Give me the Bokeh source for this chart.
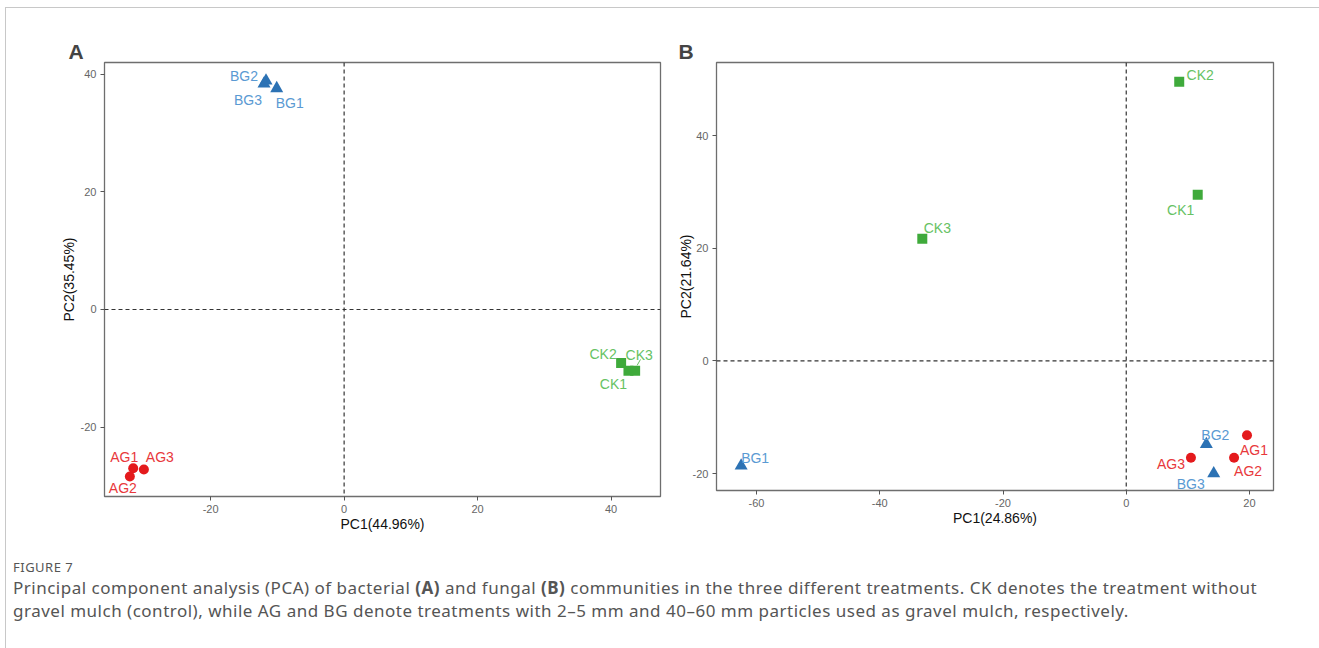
from bokeh.plotting import figure
from bokeh.models import ColumnDataSource, Span, FixedTicker, Range1d, Div
from bokeh.layouts import row, column
from bokeh.embed import file_html
from bokeh.resources import INLINE
from bokeh.core.properties import value

# ---------------- data ----------------
samples = ["AG1", "AG2", "AG3", "BG1", "BG2", "BG3", "CK1", "CK2", "CK3"]
groups = ["AG", "AG", "AG", "BG", "BG", "BG", "CK", "CK", "CK"]

# Panel A: bacterial communities
pc1_A = [-31.6, -32.1, -30.0, -10.1, -11.7, -12.0, 42.6, 41.5, 43.6]
pc2_A = [-27.0, -28.4, -27.2, 37.6, 38.9, 38.4, -10.4, -9.1, -10.4]
xlab_A = "PC1(44.96%)"
ylab_A = "PC2(35.45%)"

# Panel B: fungal communities
pc1_B = [19.6, 17.5, 10.5, -62.5, 13.0, 14.2, 11.6, 8.6, -33.1]
pc2_B = [-13.2, -17.2, -17.2, -18.6, -14.8, -20.0, 29.5, 49.6, 21.7]
xlab_B = "PC1(24.86%)"
ylab_B = "PC2(21.64%)"

ticks_A_x = [-20, 0, 20, 40]
ticks_A_y = [-20, 0, 20, 40]
ticks_B_x = [-60, -40, -20, 0, 20]
ticks_B_y = [-20, 0, 20, 40]

# ---------------- style ----------------
marker_col = {"AG": "#E41A1C", "BG": "#2C72B4", "CK": "#3FAA3B"}
label_col = {"AG": "#E8383B", "BG": "#5A9AD3", "CK": "#66C263"}
marker_shape = {"AG": "circle", "BG": "triangle", "CK": "square"}
marker_size = {"AG": 10, "BG": 13, "CK": 10}

# label pixel offsets (repel-like placement)
offA_x = [-9, -7, 16, 13, -22, -16, -15, -18, 4]
offA_y = [-11, 11, -12, 15, -5, 16, 13, -9, -16]
offB_x = [7, 14, -20, 14, 9, -23, -17, 21, 15]
offB_y = [15, 13, 6, -8, -9, 10, 15, -7, -11]

FONT = "Liberation Sans"


def make_panel(letter, xs, ys, offx, offy, xr, yr, tx, ty, xlab, ylab,
               w, h, mbl, mbr, mbt, mbb, fw, fh, title_off, ylab_standoff):
    p = figure(width=w, height=h, frame_width=fw, frame_height=fh,
               min_border_left=mbl, min_border_right=mbr,
               min_border_top=mbt, min_border_bottom=mbb,
               x_range=Range1d(*xr), y_range=Range1d(*yr),
               output_backend="svg", toolbar_location=None,
               background_fill_color="white", border_fill_color="white")
    p.title.text = letter
    p.title.text_font = FONT
    p.title.text_font_size = "21px"
    p.title.text_font_style = "bold"
    p.title.align = "left"
    p.title.offset = title_off
    p.title.standoff = 0
    p.xgrid.visible = False
    p.ygrid.visible = False
    p.outline_line_color = "#6E6E6E"
    p.outline_line_width = 1.3
    for ax, ticks, lab in ((p.xaxis[0], tx, xlab), (p.yaxis[0], ty, ylab)):
        ax.ticker = FixedTicker(ticks=ticks)
        ax.major_label_overrides = {t: str(t) for t in ticks}
        ax.axis_line_color = None
        ax.major_tick_line_color = "#555555"
        ax.major_tick_out = 4
        ax.major_tick_in = 0
        ax.minor_tick_line_color = None
        ax.major_label_text_font = FONT
        ax.major_label_text_font_size = "11px"
        ax.major_label_text_color = "#666666"
        ax.major_label_standoff = 4
        ax.axis_label = lab
        ax.axis_label_text_font = FONT
        ax.axis_label_text_font_size = "14px"
        ax.axis_label_text_font_style = "normal"
        ax.axis_label_text_color = "#111111"
    p.xaxis[0].axis_label_standoff = 0
    p.yaxis[0].axis_label_standoff = ylab_standoff
    p.yaxis[0].major_label_orientation = "horizontal"

    p.add_layout(Span(location=0, dimension="height", line_color="#333333",
                      line_dash="4 3", line_width=1.2))
    p.add_layout(Span(location=0, dimension="width", line_color="#333333",
                      line_dash="4 3", line_width=1.2))

    src = ColumnDataSource(dict(
        x=xs, y=ys, name=samples,
        mcol=[marker_col[g] for g in groups],
        lcol=[label_col[g] for g in groups],
        mk=[marker_shape[g] for g in groups],
        sz=[marker_size[g] for g in groups],
        ox=offx, oy=offy))
    p.scatter("x", "y", source=src, marker="mk", size="sz",
              fill_color="mcol", line_color="mcol", line_width=0)
    p.text("x", "y", text="name", source=src, x_offset="ox", y_offset="oy",
           text_color="lcol", text_font=value(FONT), text_font_size="14px",
           text_align="center", text_baseline="middle")
    return p


pA = make_panel("A", pc1_A, pc2_A, offA_x, offA_y,
                (-35.9, 47.4), (-31.8, 42.0), ticks_A_x, ticks_A_y,
                xlab_A, ylab_A,
                w=659, h=532, mbl=98, mbr=5, mbt=53, mbb=45, fw=556, fh=434,
                title_off=-36, ylab_standoff=1)
# connector from CK3 point to its label (panel A)
ck3 = samples.index("CK3")
pA.segment(x0=[pc1_A[ck3] + 0.3], y0=[pc2_A[ck3] + 0.9],
           x1=[pc1_A[ck3] + 0.8], y1=[pc2_A[ck3] + 1.9],
           line_color=label_col["CK"], line_width=1)

pB = make_panel("B", pc1_B, pc2_B, offB_x, offB_y,
                (-66.5, 23.9), (-23.0, 53.0), ticks_B_x, ticks_B_y,
                xlab_B, ylab_B,
                w=654, h=532, mbl=51, mbr=46, mbt=54, mbb=50, fw=557, fh=428,
                title_off=-38, ylab_standoff=-4)

caption_html = (
    '<div style="font-family:\'Noto Sans\',sans-serif;color:#555555;'
    'padding:13px 0 0 2px;white-space:nowrap;">'
    '<div style="font-size:13px;line-height:18px;letter-spacing:0.5px;">FIGURE 7</div>'
    '<div style="font-size:17px;line-height:23px;letter-spacing:0.5px;">'
    'Principal component analysis (PCA) of bacterial <b>(A)</b> and fungal <b>(B)</b> '
    'communities in the three different treatments. CK denotes the treatment without<br>'
    'gravel mulch (control), while AG and BG denote treatments with 2\u20135 mm and '
    '40\u201360 mm particles used as gravel mulch, respectively.'
    '</div></div>'
)
cap = Div(text=caption_html, width=1313, height=100)

layout = column(row(pA, pB, spacing=0), cap, spacing=0,
                styles={"border-left": "1px solid #c8c8c8",
                        "border-top": "1px solid #c8c8c8",
                        "margin-left": "5px", "margin-top": "7px"})

open("out.html", "w").write(file_html(layout, INLINE))
